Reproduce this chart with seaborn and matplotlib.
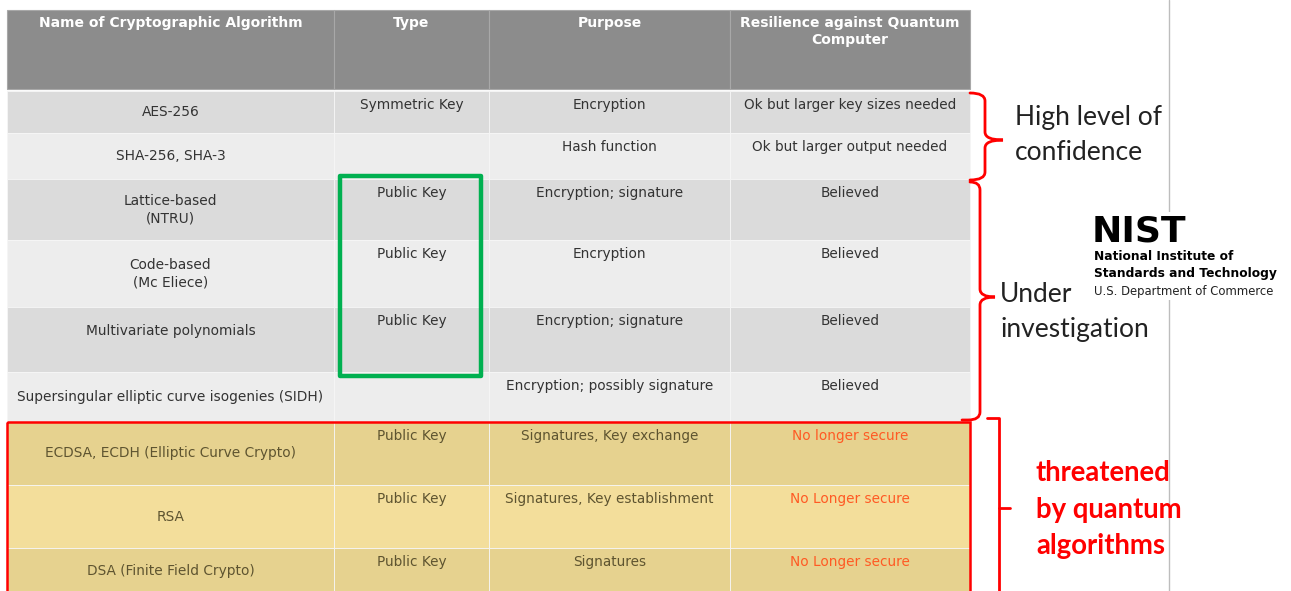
import numpy as np
import matplotlib
matplotlib.use("Agg")
import matplotlib.pyplot as plt
from matplotlib.path import Path
from matplotlib.patches import PathPatch, Rectangle
import seaborn as sns


# table content
HEADERS = [
    "Name of Cryptographic Algorithm",
    "Type",
    "Purpose",
    "Resilience against Quantum\nComputer",
]
NAMES = [
    "AES-256",
    "SHA-256, SHA-3",
    "Lattice-based\n(NTRU)",
    "Code-based\n(Mc Eliece)",
    "Multivariate polynomials",
    "Supersingular elliptic curve isogenies (SIDH)",
    "ECDSA, ECDH (Elliptic Curve Crypto)",
    "RSA",
    "DSA (Finite Field Crypto)",
]
TYPES = [
    "Symmetric Key", "", "Public Key", "Public Key", "Public Key", "",
    "Public Key", "Public Key", "Public Key",
]
PURPOSES = [
    "Encryption",
    "Hash function",
    "Encryption; signature",
    "Encryption",
    "Encryption; signature",
    "Encryption; possibly signature",
    "Signatures, Key exchange",
    "Signatures, Key establishment",
    "Signatures",
]
RESILIENCE = [
    "Ok but larger key sizes needed",
    "Ok but larger output needed",
    "Believed",
    "Believed",
    "Believed",
    "Believed",
    "No longer secure",
    "No Longer secure",
    "No Longer secure",
]
THREATENED = [False, False, False, False, False, False, True, True, True]

GROUP_LABELS = [
    ["High level of", "confidence"],
    ["Under", "investigation"],
    ["threatened", "by quantum", "algorithms"],
]
LOGO_LINES = [
    "National Institute of",
    "Standards and Technology",
    "U.S. Department of Commerce",
]

# layout (pixels, y grows downwards)
WIDTH, HEIGHT = 1291, 591
COL_EDGES = [7, 334, 489, 730, 970]
HEADER_TOP, HEADER_BOTTOM = 10, 89
ROW_EDGES = [91, 133, 179, 240, 307, 372, 422, 485, 548, 600]
NAME_Y = [112, 156, 210, 274, 331, 397, 453, 517, 571]

GRAY_DARK = "#dbdbdb"
GRAY_LIGHT = "#ededed"
TAN_DARK = "#e6d28f"
TAN_LIGHT = "#f3de9b"
HEADER_GRAY = "#8c8c8c"
TEXT_GRAY = "#333333"
TEXT_OLIVE = "#5e5430"
TEXT_ORANGE = "#ff5a24"
RED = "#ff0000"
GREEN = "#00b050"


def brace(ax, x_tip, y_top, y_bottom, x_spine, x_point, y_point, bottom_to=None):
    """
    Curly brace opening to the left, pointing right.
    """
    r = 8
    verts = [
        (x_tip, y_top),
        (x_spine, y_top), (x_spine, y_top + r),
        (x_spine, y_point - r),
        (x_spine, y_point), (x_point, y_point),
        (x_spine, y_point), (x_spine, y_point + r),
        (x_spine, y_bottom - r),
    ]
    codes = [
        Path.MOVETO,
        Path.CURVE3, Path.CURVE3,
        Path.LINETO,
        Path.CURVE3, Path.CURVE3,
        Path.CURVE3, Path.CURVE3,
        Path.LINETO,
    ]
    if bottom_to is None:
        verts += [(x_spine, y_bottom), (x_tip, y_bottom)]
        codes += [Path.CURVE3, Path.CURVE3]
    else:
        verts += [(x_spine, y_bottom), (x_spine - 12, y_bottom), (bottom_to, y_bottom)]
        codes += [Path.CURVE3, Path.CURVE3, Path.LINETO]
    ax.add_patch(PathPatch(Path(verts, codes), fill=False, edgecolor=RED,
                           linewidth=2, capstyle="round", zorder=6))


def stacked_label(ax, x, y_lines, lines, **kwargs):
    """
    Draw one label line by line.
    """
    for y, line in zip(y_lines, lines):
        ax.text(x, y, line, ha="left", va="center", zorder=7, **kwargs)


sns.set_theme(style="white")
plt.rcParams["font.family"] = ["DejaVu Sans"]

fig = plt.figure(figsize=(WIDTH / 100, HEIGHT / 100), dpi=100)
ax = fig.add_axes([0, 0, 1, 1])
ax.set_xlim(0, WIDTH)
ax.set_ylim(HEIGHT, 0)
ax.axis("off")

col_left = np.array(COL_EDGES[:-1])
col_width = np.diff(COL_EDGES)
col_center = col_left + col_width / 2

# header band
ax.bar(col_left, HEADER_BOTTOM - HEADER_TOP, width=col_width, bottom=HEADER_TOP,
       align="edge", color=HEADER_GRAY, edgecolor="#a8a8a8", linewidth=0.8, zorder=1)
for x, label in zip(col_center, HEADERS):
    ax.text(x, HEADER_TOP + 6, label, ha="center", va="top", color="white",
            fontsize=10, fontweight="bold", linespacing=1.3, zorder=3)

# body rows
row_top = np.array(ROW_EDGES[:-1])
row_height = np.diff(ROW_EDGES)
for i, (top, h) in enumerate(zip(row_top, row_height)):
    if THREATENED[i]:
        color = TAN_DARK if (i - 6) % 2 == 0 else TAN_LIGHT
    else:
        color = GRAY_DARK if i % 2 == 0 else GRAY_LIGHT
    ax.bar(col_left, h, width=col_width, bottom=top, align="edge",
           color=color, edgecolor="#f6f6f6", linewidth=0.6, zorder=1)

for i in range(len(NAMES)):
    top = row_top[i]
    base_color = TEXT_OLIVE if THREATENED[i] else TEXT_GRAY
    ax.text(col_center[0], NAME_Y[i], NAMES[i], ha="center", va="center",
            color=base_color, fontsize=9.9, linespacing=1.3, zorder=3)
    ax.text(col_center[1], top + 14, TYPES[i], ha="center", va="center",
            color=base_color, fontsize=9.8, zorder=3)
    ax.text(col_center[2], top + 14, PURPOSES[i], ha="center", va="center",
            color=base_color, fontsize=9.8, zorder=3)
    res_color = TEXT_ORANGE if THREATENED[i] else TEXT_GRAY
    ax.text(col_center[3], top + 14, RESILIENCE[i], ha="center", va="center",
            color=res_color, fontsize=9.8, zorder=3)

# green box around the public-key cells under investigation
ax.add_patch(Rectangle((340, 176), 141, 200, fill=False, edgecolor=GREEN,
                       linewidth=3.2, joinstyle="round", zorder=5))

# red frame around threatened rows
ax.add_patch(Rectangle((7, 422), 963, 200, fill=False, edgecolor=RED,
                       linewidth=1.8, zorder=5))

# braces
brace(ax, 970, 93, 180, 985, 1003, 140)
brace(ax, 970, 182, 420, 980, 995, 297, bottom_to=962)

# square bracket for the threatened group
ax.plot([987, 999, 999], [418, 418, 600], color=RED, linewidth=2, zorder=6)
ax.plot([999, 1010], [508, 508], color=RED, linewidth=2, zorder=6)

# separator line on the right
ax.plot([1169, 1169], [0, HEIGHT], color="#bdbdbd", linewidth=1, zorder=2)

stacked_label(ax, 1015, [118, 152], GROUP_LABELS[0], color="#222222",
              fontsize=19, family=["Lato", "DejaVu Sans"])
stacked_label(ax, 1000, [295, 329], GROUP_LABELS[1], color="#222222",
              fontsize=19, family=["Lato", "DejaVu Sans"])
stacked_label(ax, 1036, [473, 510, 546], GROUP_LABELS[2], color=RED,
              fontsize=19.8, fontweight="bold", family=["Lato", "DejaVu Sans"])

# NIST logo block
ax.add_patch(Rectangle((1090, 212), 196, 88, facecolor="white", edgecolor="none", zorder=3))
ax.text(1092, 232, "NIST", ha="left", va="center", color="black", fontsize=26,
        fontweight="bold", zorder=7)
ax.text(1094, 257, LOGO_LINES[0], ha="left", va="center", color="black",
        fontsize=8.8, fontweight="bold", zorder=7)
ax.text(1094, 273, LOGO_LINES[1], ha="left", va="center", color="black",
        fontsize=8.8, fontweight="bold", zorder=7)
ax.text(1094, 291, LOGO_LINES[2], ha="left", va="center", color="#222222",
        fontsize=8.4, zorder=7)

fig.savefig("out.png", dpi=100, facecolor="white")
